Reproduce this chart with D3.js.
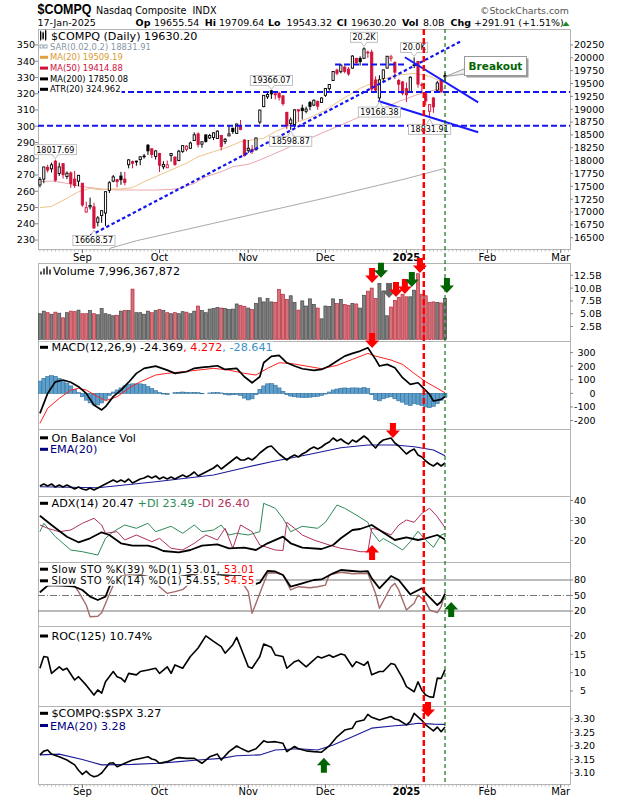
<!DOCTYPE html>
<html><head><meta charset="utf-8">
<script src="https://cdn.jsdelivr.net/npm/d3@7"></script>
<style>
body{margin:0;background:#fff}
svg{display:block}
text{font-family:"DejaVu Sans",Verdana,sans-serif;white-space:pre}
</style></head>
<body><svg id="chart" width="620" height="800"></svg>
<script>
// ---------------- DATA ----------------
const tradingDays = {
  "2024-08": [16,19,20,21,22,23,26,27,28,29,30],
  "2024-09": [3,4,5,6,9,10,11,12,13,16,17,18,19,20,23,24,25,26,27,30],
  "2024-10": [1,2,3,4,7,8,9,10,11,14,15,16,17,18,21,22,23,24,25,28,29,30,31],
  "2024-11": [1,4,5,6,7,8,11,12,13,14,15,18,19,20,21,22,25,26,27,29],
  "2024-12": [2,3,4,5,6,9,10,11,12,13,16,17,18,19,20,23,24,26,27,30,31],
  "2025-01": [2,3,6,7,8,10,13,14,15,16,17]
};
const dates = Object.entries(tradingDays).flatMap(([m,ds]) => ds.map(d => m + "-" + String(d).padStart(2,"0")));
const monthTicks = [["Sep",11,false],["Oct",31,false],["Nov",54,false],["Dec",74,false],["2025",95,true],["Feb",116,false],["Mar",135,false]];
const prevClose0 = 17594.50;

const open = [17525,17640,17870,17840,17990,17750,17940,17690,17760,17640,17600,
 17560,17000,17100,17100,16800,16930,16980,17420,17600,
 17630,17700,17640,17920,17980,17990,18020,18090,18300,18230,18080,
 18140,17880,17860,18100,18070,18000,18180,18220,18240,
 18390,18520,18320,18500,18440,18450,18430,18490,18370,18480,
 18630,18530,18670,18400,
 18200,18220,18210,18750,19050,19240,
 19360,19300,19310,19260,18940,18720,18700,18990,19020,18960,
 19130,19080,19150,19130,
 19270,19400,19560,19760,19730,
 19820,19780,19800,19990,19990,
 19990,20110,20110,19570,19220,
 19600,19800,19990,19910,
 19560,19530,
 19400,19340,19850,19930,19470,19300,
 18960,19220,19370,19560,19655.54];
const high = [17680,17877,17920,17960,18017.69,17960,17950,17790,17790,17800,17720,
 17560,17200,17280,17180,16920,17030,17400,17600,17720,
 17640,17780,17780,18030,18000,18000,18080,18130,18320,18240,18200,
 18150,17990,18000,18140,18080,18210,18300,18300,18370,
 18550,18550,18370,18510,18520,18550,18590,18500,18440,18690,
 18640,18720,18790,18420,
 18400,18300,18450,18990,19270,19330,
 19366.07,19350,19340,19270,18940,18840,19000,18990,19090,19050,
 19160,19190,19170,19230,
 19410,19490,19740,19790,19870,
 19850,19820,20050,20000,20030,
 20204.58,20140,20160,19640,19660,
 19770,20035,20060,19930,
 19590,19550,
 19520,19640,20007.95,19940,19520,19320,
 19100,19230,19550,19580,19709.64];
const low = [17480,17560,17770,17770,17590,17700,17650,17640,17470,17470,17500,
 17100,16990,17050,16668.57,16720,16790,16730,17370,17580,
 17480,17530,17520,17850,17850,17900,17910,18040,18110,18050,18020,
 17780,17830,17860,17980,17900,17990,18150,18180,18230,
 18390,18260,18250,18350,18420,18400,18420,18200,18320,18480,
 18520,18520,18590,18080,
 18150,18130,18200,18710,19040,19200,
 19200,19190,19170,19070,18610,18598.87,18650,18760,18800,18920,
 18980,19060,18990,19120,
 19240,19360,19550,19660,19700,
 19700,19650,19790,19890,19850,
 19980,20000,19350,19340,19168.38,
 19520,19790,19930,19590,
 19340,19270,
 19140,19330,19800,19420,19320,19070,
 18831.91,18930,19340,19320,19543.32];
const close = [17631.72,17876.77,17816.94,17918.99,17619.35,17877.79,17725.77,17754.82,17556.03,17516.43,17713.62,
 17136.30,17084.30,17127.66,16690.83,16884.60,17025.88,17395.53,17569.68,17683.98,
 17592.13,17628.06,17573.30,18013.98,17948.32,17974.27,18074.52,18082.21,18190.29,18119.59,18189.17,
 17910.36,17925.12,17918.48,18137.85,17923.90,18182.92,18291.62,18282.05,18342.94,
 18502.69,18315.59,18367.08,18373.61,18489.55,18540.01,18573.13,18276.65,18415.49,18518.61,
 18567.19,18712.75,18607.93,18095.15,
 18239.92,18179.98,18439.17,18983.47,19269.46,19286.78,
 19298.76,19281.40,19230.74,19107.65,18680.12,18791.81,18987.47,18966.14,18972.42,19003.65,
 19054.84,19174.30,19060.48,19218.17,
 19403.95,19480.91,19735.12,19700.26,19859.77,
 19736.69,19687.24,20034.89,19902.84,19926.72,
 20173.89,20109.06,19392.69,19372.77,19572.60,
 19764.89,20031.13,20020.36,19722.03,
 19486.79,19310.79,
 19280.79,19621.68,19864.98,19489.68,19478.88,19161.63,
 19088.10,19044.39,19511.23,19338.29,19630.20];
const volumeB = [5.0,5.5,5.2,4.9,5.3,5.1,4.2,5.2,5.5,5.4,5.7,
 5.0,5.0,5.6,5.0,4.8,6.0,5.0,4.8,4.6,
 4.7,5.5,5.6,5.6,9.8,5.2,5.2,4.9,5.5,5.2,5.6,
 5.8,5.6,5.2,5.0,5.2,5.0,5.4,5.3,5.0,
 5.5,6.5,5.6,5.2,5.9,6.0,6.2,6.1,6.0,5.8,
 5.9,6.9,6.6,6.4,
 6.1,5.8,7.0,8.1,7.3,8.0,
 7.3,7.2,9.7,8.8,7.8,8.5,7.2,5.7,7.5,6.5,
 7.9,6.8,6.1,4.0,
 6.5,6.4,7.9,7.0,7.8,
 6.8,6.6,7.0,6.9,6.1,
 8.6,9.4,10.0,8.0,10.9,
 9.4,4.6,6.3,7.6,
 8.2,8.8,
 8.3,8.3,9.6,12.8,8.8,8.5,
 7.2,7.3,7.2,7.1,7.996];

// overlays on price: [day index, value]
const ma20 = [[0,17084],[3,17110],[7,17267],[10,17395],[13,17460],[16,17430],[18,17448],[21,17450],[24,17473],[27,17590],[30,17687],[34,17818],[38,17948],[41,18076],[45,18174],[49,18271],[52,18368],[55,18401],[58,18434],[61,18563],[64,18660],[67,18757],[70,18835],[74,18985],[78,19180],[83,19407],[88,19569],[93,19666],[97,19699],[101,19640],[105,19509.19]];
const ma50 = [[0,17590],[3,17603],[7,17558],[11,17493],[16,17448],[20,17428],[25,17428],[30,17428],[34,17440],[37,17470],[40,17558],[43,17687],[47,17784],[50,17882],[54,17928],[57,18012],[60,18109],[64,18240],[67,18368],[70,18434],[73,18532],[78,18693],[83,18855],[88,18985],[93,19150],[98,19290],[102,19370],[105,19414.88]];
const ma200 = [[18,16290],[25,16440],[35,16610],[45,16780],[55,16950],[65,17120],[75,17290],[85,17470],[95,17650],[105,17850.08]];

const macdLine = [[0,-147],[2,0],[4,85],[6,98],[8,82],[10,49],[12,0],[14,-86],[16,-122],[17,-98],[19,-24],[21,24],[23,82],[25,147],[27,184],[30,200],[33,171],[35,147],[38,159],[40,184],[42,191],[44,196],[46,203],[48,176],[51,184],[53,122],[55,78],[57,122],[58,225],[60,272],[62,279],[64,225],[66,201],[68,181],[71,169],[73,176],[75,201],[77,238],[79,274],[81,294],[83,311],[85,335],[87,250],[88,201],[90,213],[92,189],[94,115],[96,66],[98,78],[99,49],[101,-7],[102,-56],[104,-44],[105,-24.369]];
const macdSignal = [[0,-220],[2,-110],[5,-37],[8,24],[10,37],[12,24],[15,-25],[17,-54],[20,-25],[23,37],[26,85],[30,135],[33,147],[37,159],[41,171],[45,184],[49,171],[53,147],[56,135],[59,184],[62,225],[65,220],[69,201],[73,181],[77,206],[81,250],[85,294],[87,274],[91,245],[94,213],[97,147],[100,85],[103,37],[105,4.272]];
const macdHist = [90,110,125,130,125,110,95,75,55,30,5,
 -25,-50,-70,-85,-85,-70,-45,-15,10,
 25,40,55,65,70,70,70,65,50,35,20,
 5,-5,-8,0,5,8,10,8,5,
 8,5,-3,0,3,5,8,3,-8,-12,
 -10,-8,-15,-35,
 -48,-40,-10,30,55,70,
 72,60,40,15,-10,-20,-25,-28,-30,-30,
 -28,-25,-22,-15,
 -5,10,25,32,38,
 40,38,40,40,38,
 42,35,-10,-45,-55,
 -40,-30,-25,-40,
 -55,-65,
 -80,-90,-75,-80,-90,-100,
 -105,-95,-75,-50,-28.641];

// On balance volume (relative, billions)
const obv = [[0,4],[1,6],[2,4],[3,6],[4,3],[5,5],[6,3],[7,5],[8,3],[9,1],[10,3],[11,1],[12,0],[13,2],[14,0],[15,2],[16,4],[17,6],[18,8],[19,10],[20,8],[21,10],[22,8],[23,11],[24,7],[25,9],[26,11],[27,12],[28,14],[29,12],[30,14],[31,11],[32,13],[33,11],[34,13],[35,11],[36,13],[37,15],[38,13],[39,15],[40,18],[41,14],[42,16],[43,18],[44,20],[45,22],[46,25],[47,21],[48,24],[49,27],[50,30],[51,33],[52,30],[53,30],[54,32],[55,30],[56,33],[57,37],[58,40],[59,43],[60,44],[61,40],[62,36],[63,33],[64,30],[65,33],[66,35],[67,33],[68,36],[69,38],[70,41],[71,43],[72,41],[73,43],[74,46],[75,48],[76,52],[77,49],[78,51],[79,48],[80,46],[81,50],[82,48],[83,51],[84,54],[85,51],[86,46],[87,42],[88,47],[89,50],[90,51],[91,52],[92,47],[93,44],[94,40],[95,36],[96,39],[97,41],[98,35],[99,33],[100,29],[101,26],[102,24],[103,27],[104,24],[105,27]];
const obvEma = [[0,3.3],[15,2.3],[30,8.3],[45,15],[53,22.3],[60,28.3],[70,35.7],[78,42.3],[85,45],[92,45],[97,43.3],[102,40],[105,34.3]];

const adx = [[0,32.4],[3,27.75],[7,21.9],[10,19.1],[13,21.1],[16,24.1],[18,22.75],[21,18.6],[24,17.4],[28,17.4],[30,16.4],[32,14.75],[36,14.1],[39,15.25],[42,17.4],[46,18.1],[49,16.1],[53,16.4],[56,15.25],[59,18.6],[63,21.9],[65,18.6],[68,16.4],[73,15.75],[76,17.75],[78,21.1],[81,25.25],[83,25.75],[86,27.75],[88,25.25],[92,20.25],[95,21.6],[98,20.25],[100,21.1],[103,22.75],[105,20.47]];
const plusDI = [[0,24.4],[1,28.6],[4,21.9],[8,15.25],[11,14.4],[15,12.75],[17,21.1],[19,24.4],[22,27.75],[25,26.1],[28,28.6],[30,24.4],[34,27.1],[37,23.6],[40,27.75],[42,24.4],[45,25.25],[47,27.75],[49,22.75],[51,23.6],[54,22.75],[57,24.4],[58,38.6],[61,36.1],[63,31.1],[65,24.4],[68,27.1],[72,26.1],[74,29.1],[77,37.75],[79,36.1],[82,32.75],[85,29.1],[86,24.4],[88,19.4],[89,21],[92,17.75],[94,15.25],[96,19.4],[98,24.6],[100,20.25],[102,16.6],[104,22.75],[105,23.49]];
const minusDI = [[0,27.75],[2,26.1],[5,24.4],[8,25.25],[11,28.6],[14,31.1],[16,27.75],[17,23.6],[20,24.4],[22,20.25],[25,22.75],[29,19.4],[31,21.1],[34,16.1],[37,15.25],[40,18.6],[43,22.75],[46,20.25],[48,26.1],[50,16.1],[52,27.75],[55,24.4],[57,17.75],[61,15.25],[63,15],[64,29.1],[66,26.1],[68,22.75],[71,20.25],[75,17.75],[78,16.1],[81,15.25],[83,14.4],[85,14.4],[86,26.1],[88,25.25],[91,22.75],[93,27.75],[95,30.25],[97,29.1],[99,33.6],[101,36.1],[103,31.9],[105,26.4]];

const sto39 = [[0,56.2],[2,69],[5,70],[9,67],[11,60.7],[13,47.7],[15,41.3],[17,47.7],[18,67],[19,76.7],[22,85],[26,88],[30,84],[33,80],[36,86],[39,90],[42,95],[45,94],[47,89.7],[50,87.7],[52,88],[54,78.7],[55,70.3],[57,74.8],[59,97.4],[61,96.5],[63,89.7],[65,67],[68,73.5],[71,80],[73,81],[76,92.9],[78,99.3],[81,97.4],[83,96],[85,97],[86,83.2],[88,64],[91,87.7],[93,80],[96,52.3],[99,64],[100,54.2],[103,31.6],[104,38],[105,53.01]];
const sto14 = [[0,56],[2,70],[5,69],[9,68],[10,57.4],[12,31.6],[13,9],[15,10],[16,16.8],[18,52.3],[19,70],[21,88],[25,92],[29,85],[31,67],[33,54],[35,57.4],[37,61.3],[39,75],[40,88],[42,96],[45,96],[47,83],[49,70],[52,80],[54,57.4],[55,15.5],[57,54.2],[59,93],[61,94],[63,90],[65,60.7],[67,67],[70,65],[72,67],[74,70],[75,90],[78,95],[81,92],[85,93],[87,54],[88,25.3],[91,67],[92,73.5],[93,60.7],[95,22],[97,35],[98,51],[100,38],[101,22],[103,16.8],[104,28.4],[105,54.55]];

const roc125 = [[0,11.2],[1,14.4],[2,14.2],[3,9.8],[5,11.6],[6,10.7],[7,11.2],[9,8],[10,8.9],[12,6.6],[14,3.9],[15,5.3],[16,4.4],[17,7.5],[19,10.3],[20,8.9],[21,8.5],[22,7.5],[23,9.8],[25,9.4],[26,10.3],[28,10.7],[30,11.2],[31,9.8],[33,11.6],[34,9.8],[35,12.1],[37,11.2],[39,14.4],[41,16.7],[43,20],[45,18.5],[47,17.1],[48,15.3],[50,17.6],[51,19.6],[52,17],[54,11.6],[55,11.2],[57,14.4],[58,17.8],[60,16.9],[61,14.8],[63,14.4],[64,11.2],[66,13],[67,13.4],[69,11.6],[70,12.5],[72,14.4],[73,14],[75,14.8],[76,14.2],[78,15.1],[79,14.8],[81,11.6],[82,13],[84,12],[85,13],[86,9.4],[88,10.3],[89,10.3],[91,12.5],[92,12.2],[94,8.5],[95,6.2],[97,4.8],[98,7.5],[99,5.2],[100,3.9],[101,3.4],[102,3.3],[103,8.5],[104,8.4],[105,10.74]];

const ratio = [[0,3.167],[1,3.181],[2,3.185],[3,3.170],[4,3.165],[5,3.160],[7,3.148],[9,3.130],[10,3.110],[11,3.095],[12,3.107],[13,3.093],[14,3.086],[15,3.090],[16,3.100],[18,3.136],[19,3.138],[20,3.123],[22,3.136],[24,3.148],[26,3.154],[28,3.160],[29,3.152],[30,3.148],[31,3.136],[33,3.142],[35,3.154],[36,3.157],[38,3.154],[40,3.154],[42,3.136],[44,3.160],[46,3.170],[47,3.148],[49,3.179],[51,3.200],[52,3.192],[53,3.185],[54,3.179],[56,3.190],[58,3.219],[59,3.214],[61,3.216],[63,3.210],[64,3.179],[66,3.198],[67,3.190],[69,3.182],[71,3.179],[73,3.177],[75,3.200],[77,3.234],[79,3.259],[81,3.266],[82,3.290],[84,3.296],[85,3.317],[86,3.306],[88,3.296],[91,3.309],[92,3.300],[93,3.296],[95,3.278],[96,3.290],[97,3.321],[99,3.295],[100,3.278],[102,3.256],[103,3.270],[104,3.253],[105,3.27]];
const ratioEma = [[0,3.167],[5,3.170],[11,3.150],[16,3.130],[24,3.132],[31,3.136],[36,3.142],[41,3.148],[47,3.154],[51,3.164],[57,3.167],[61,3.185],[67,3.19],[72,3.185],[76,3.204],[81,3.234],[86,3.266],[92,3.275],[95,3.278],[98,3.284],[102,3.281],[105,3.28]];

// axis tick labels
const priceTicks = [16500,16750,17000,17250,17500,17750,18000,18250,18500,18750,19000,19250,19500,19750,20000,20250];
const leftTicks = [230,240,250,260,270,280,290,300,310,320,330,340,350];
const volTicks = [2.5,5,7.5,10,12.5];
const macdTicks = [-200,-100,0,100,200,300];
const adxTicks = [20,30,40];
const stoTicks = [20,50,80];
const rocTicks = [5,10,15,20];
const ratioTicks = [3.10,3.15,3.20,3.25,3.30];

// annotations (drawn in data coordinates)
const hLevels = [[19333,-0.5,137.4],[18680,-0.5,137.4],[19870,76.5,94.6]];
const risingTrend = [[11.67,16488],[108.9,20314]];
const wedgeUpper = [[94.6,20011],[113.6,19135]];
const wedgeLower = [[87.7,19160],[113.6,18551]];
const valueLabels = [[4,18017.69,"18017.69","up"],[14,16668.57,"16668.57","down"],[60,19366.07,"19366.07","up"],[65,18598.87,"18598.87","down"],[84,20204.58,"20.2K","up"],[88,19168.38,"19168.38","down"],[97,20007.95,"20.0K","up"],[101,18831.91,"18831.91","down"]];
const markerLines = [[99.5,"#ff0000",2.4,"6,3"],[105,"#006600",1.1,"4,3"]];
const arrows = [
 ["vol",86.1,11.0,"down","#ff0000"],["vol",88.4,12.0,"down","#006400"],["vol",90.5,8.07,"down","#666666"],
 ["vol",92.3,8.26,"down","#ff0000"],["vol",94.6,8.85,"down","#ff0000"],["vol",96.4,10.2,"down","#006400"],
 ["vol",98.5,12.95,"down","#ff0000"],["vol",105.5,9.04,"down","#006400"],
 ["macd",86.1,333,"down","#ff0000"],["obv",91.5,52,"down","#ff0000"],["adx",86.1,17.75,"up","#ff0000"],
 ["sto",106.6,37.4,"up","#006400"],["ratio",73.6,3.156,"up","#006400"],["ratio",100.6,3.307,"down","#ff0000"]];

// ---------------- DRAWING ----------------
const svg = d3.select("#chart");
const X0 = 38, X1 = 570;
const x = d3.scaleLinear().domain([-0.5, 137.4]).range([X0, X1]);
const P = {price:{t:29,b:249}, vol:{t:263,b:341}, macd:{t:341,b:429}, obv:{t:429,b:496},
  adx:{t:496,b:562}, sto:{t:562,b:626}, roc:{t:626,b:706}, ratio:{t:706,b:784}};
const yPrice = d3.scaleLinear().domain([16280,20561]).range([P.price.b,P.price.t]);
const yLeft = d3.scaleLinear().domain([224.5,359.8]).range([P.price.b,P.price.t]);
const yVol = d3.scaleLinear().domain([-0.33,14.9]).range([P.vol.b,P.vol.t]);
const yMacd = d3.scaleLinear().domain([-262,385]).range([P.macd.b,P.macd.t]);
const yObv = d3.scaleLinear().domain([-6,61]).range([P.obv.b,P.obv.t]);
const yAdx = d3.scaleLinear().domain([9.25,42.25]).range([P.adx.b,P.adx.t]);
const ySto = d3.scaleLinear().domain([-9,114.8]).range([P.sto.b,P.sto.t]);
const yRoc = d3.scaleLinear().domain([0.92,22.7]).range([P.roc.b,P.roc.t]);
const yRatio = d3.scaleLinear().domain([3.0593,3.348]).range([P.ratio.b,P.ratio.t]);
const Y = {price:yPrice, vol:yVol, macd:yMacd, obv:yObv, adx:yAdx, sto:ySto, roc:yRoc, ratio:yRatio};

const defs = svg.append("defs");
Object.entries(P).forEach(([k,p]) => {
  defs.append("clipPath").attr("id","clip-"+k).append("rect")
    .attr("x",X0).attr("y",p.t).attr("width",X1-X0).attr("height",p.b-p.t);
});
// frames
Object.entries(P).forEach(([k,p]) => {
  svg.append("rect").attr("x",X0+0.5).attr("y",p.t+0.5).attr("width",X1-X0).attr("height",p.b-p.t)
    .attr("fill","#fff").attr("stroke","#b4b4b4").attr("stroke-width",1);
});
const layer = k => svg.append("g").attr("clip-path","url(#clip-"+k+")");
const lineGen = ys => d3.line().x(d => x(d[0])).y(d => ys(d[1]));
function drawLine(g, data, ys, color, w, dash){
  const p = g.append("path").attr("d", lineGen(ys)(data)).attr("fill","none")
    .attr("stroke",color).attr("stroke-width",w).attr("stroke-linejoin","round");
  if (dash) p.attr("stroke-dasharray",dash);
  return p;
}
const isDown = i => close[i] < (i ? close[i-1] : prevClose0);
const RED = "#d2143c";

// ---- price panel
const gp = layer("price");
drawLine(gp, ma200, yPrice, "#a9a9a9", 1);
drawLine(gp, ma50, yPrice, "#eaa7ae", 1);
drawLine(gp, ma20, yPrice, "#efc48a", 1);
const bw = 2.2;
dates.forEach((d,i) => {
  const c = isDown(i) ? RED : "#000";
  const cx = x(i);
  gp.append("line").attr("x1",cx).attr("x2",cx).attr("y1",yPrice(high[i])).attr("y2",yPrice(low[i]))
    .attr("stroke",c).attr("stroke-width",1);
  const top = yPrice(Math.max(open[i],close[i])), bot = yPrice(Math.min(open[i],close[i]));
  gp.append("rect").attr("x",cx-bw/2).attr("y",top).attr("width",bw).attr("height",Math.max(bot-top,0.8))
    .attr("fill", close[i] >= open[i] ? "#fff" : c).attr("stroke",c).attr("stroke-width",0.9);
});
hLevels.forEach(h => {
  gp.append("line").attr("x1",x(h[1])).attr("x2",x(h[2])).attr("y1",yPrice(h[0])).attr("y2",yPrice(h[0]))
    .attr("stroke","#1414f0").attr("stroke-width",2).attr("stroke-dasharray","6,3");
});
drawLine(gp, risingTrend, yPrice, "#1414f0", 2.2, "3.5,2.5");
drawLine(gp, wedgeUpper, yPrice, "#1a1aff", 2);
drawLine(gp, wedgeLower, yPrice, "#1a1aff", 2);

// ---- volume
const gv = layer("vol");
dates.forEach((d,i) => {
  const dn = isDown(i);
  gv.append("rect").attr("x",x(i)-1.5).attr("width",3).attr("y",yVol(volumeB[i])).attr("height",yVol(0)-yVol(volumeB[i]))
    .attr("fill", dn ? "#d6727a" : "#808080").attr("stroke", dn ? "#b8283c" : "#444").attr("stroke-width",0.7);
});

// ---- MACD
const gm = layer("macd");
const step = x(1)-x(0);
macdHist.forEach((v,i) => {
  const y0 = yMacd(0), y1 = yMacd(v);
  gm.append("rect").attr("x",x(i)-step/2).attr("width",step).attr("y",Math.min(y0,y1)).attr("height",Math.abs(y1-y0))
    .attr("fill","#5f9fcc").attr("stroke","#2f6f9c").attr("stroke-width",0.6);
});
drawLine(gm, macdSignal, yMacd, "#ff2020", 1);
drawLine(gm, macdLine, yMacd, "#000", 1.7);

// ---- OBV
const go = layer("obv");
drawLine(go, obvEma, yObv, "#1a1a9a", 1.1);
drawLine(go, obv, yObv, "#000", 1.6);

// ---- ADX
const ga = layer("adx");
drawLine(ga, plusDI, yAdx, "#2e8b57", 1);
drawLine(ga, minusDI, yAdx, "#b03060", 1);
drawLine(ga, adx, yAdx, "#000", 1.8);

// ---- STO
const gs = layer("sto");
[80,20].forEach(v => gs.append("line").attr("x1",X0).attr("x2",X1).attr("y1",ySto(v)).attr("y2",ySto(v)).attr("stroke","#777").attr("stroke-width",1));
gs.append("line").attr("x1",X0).attr("x2",X1).attr("y1",ySto(50)).attr("y2",ySto(50)).attr("stroke","#777").attr("stroke-width",1).attr("stroke-dasharray","7,2,1,2");
drawLine(gs, sto14, ySto, "#a36b6b", 1.4);
drawLine(gs, sto39, ySto, "#000", 1.8);

// ---- ROC
const gr = layer("roc");
drawLine(gr, roc125, yRoc, "#000", 1.6);

// ---- ratio
const gq = layer("ratio");
drawLine(gq, ratioEma, yRatio, "#1a1a9a", 1.1);
drawLine(gq, ratio, yRatio, "#000", 1.6);

// ---------------- legends ----------------
function legend(L){
  const g = svg.append("g");
  const bg = g.append("rect").attr("fill","#fff");
  const t = g.append("text").attr("x",L.x).attr("y",L.y).attr("dy","0.36em").style("font-size",L.size+"px");
  if (L.ls) t.style("letter-spacing", L.ls + "px");
  L.parts.forEach(p => t.append("tspan").attr("fill",p[1]).text(p[0]));
  const bb = t.node().getBBox();
  bg.attr("x",39).attr("y",L.y-L.size*0.5).attr("width",bb.x+bb.width-39+1).attr("height",L.size);
  if (L.icon === "dash") g.append("rect").attr("x",40).attr("y",L.y-1.5).attr("width",8).attr("height",3).attr("fill",L.ic);
  if (L.icon === "sar") { [40,44].forEach(px => g.append("rect").attr("x",px).attr("y",L.y-1.5).attr("width",3).attr("height",3).attr("fill","none").attr("stroke","#8595a5").attr("stroke-width",0.8)); }
  if (L.icon === "candle") {
    [[40,-4,4],[42.5,-3,3],[45,-5,4]].forEach(c => {
      g.append("line").attr("x1",c[0]+0.6).attr("x2",c[0]+0.6).attr("y1",L.y+c[1]-1).attr("y2",L.y+c[2]+1).attr("stroke","#000").attr("stroke-width",0.8);
      g.append("rect").attr("x",c[0]).attr("y",L.y+c[1]).attr("width",1.3).attr("height",c[2]-c[1]).attr("fill","#000");
    });
  }
  if (L.icon === "bars") {
    [[40,3],[43,6],[46,8],[49,5]].forEach(b => g.append("rect").attr("x",b[0]).attr("y",L.y+4-b[1]).attr("width",2).attr("height",b[1]).attr("fill","#555"));
  }
}
const legends = [
 {x:51, y:35.7, size:11.2, icon:"candle", parts:[["$COMPQ (Daily) 19630.20","#000"]]},
 {x:50, y:46.5, size:8.4, icon:"sar", parts:[["SAR(0.02,0.2) 18831.91","#8595a5"]]},
 {x:50, y:57.3, size:8.4, icon:"dash", ic:"#e0a040", parts:[["MA(20) 19509.19","#d99a30"]]},
 {x:50, y:68.1, size:8.4, icon:"dash", ic:"#d0103a", parts:[["MA(50) 19414.88","#d0103a"]]},
 {x:50, y:78.9, size:8.4, icon:"dash", ic:"#000", parts:[["MA(200) 17850.08","#000"]]},
 {x:50, y:89.3, size:8.4, icon:"dash", ic:"#000", parts:[["ATR(20) 324.962","#000"]]},
 {x:53, y:270.5, size:11.2, icon:"bars", parts:[["Volume 7,996,367,872","#000"]]},
 {x:51.5, y:347.3, size:11.2, icon:"dash", ic:"#000", parts:[["MACD(12,26,9) -24.369","#000"],[", 4.272","#ff0000"],[", -28.641","#3a8fc8"]]},
 {x:51.5, y:437.8, size:11.2, icon:"dash", ic:"#000", parts:[["On Balance Vol","#000"]]},
 {x:50, y:449.3, size:11.2, icon:"dash", ic:"#000080", parts:[["EMA(20)","#000080"]]},
 {x:51.5, y:503.3, size:11.2, icon:"dash", ic:"#000", parts:[["ADX(14) 20.47 ","#000"],["+DI 23.49 ","#2e8b57"],["-DI 26.40","#b03060"]]},
 {x:51.5, y:569.2, size:10, ls:0.45, icon:"dash", ic:"#000", parts:[["Slow STO %K(39) %D(1) 53.01, ","#000"],["53.01","#ff0000"]]},
 {x:51.5, y:580.8, size:10, ls:0.45, icon:"dash", ic:"#000", parts:[["Slow STO %K(14) %D(1) 54.55, ","#000"],["54.55","#ff0000"]]},
 {x:51.5, y:636, size:11.2, icon:"dash", ic:"#000", parts:[["ROC(125) 10.74%","#000"]]},
 {x:51.5, y:713.3, size:11.2, icon:"dash", ic:"#000", parts:[["$COMPQ:$SPX 3.27","#000"]]},
 {x:50, y:725.5, size:11.2, icon:"dash", ic:"#000080", parts:[["EMA(20) 3.28","#000080"]]}
];
legends.forEach(legend);

// ---------------- axes ----------------
function rightAxis(ys, ticks, fmt){
  const g = svg.append("g");
  const texts = ticks.map(v => {
    g.append("line").attr("x1",X1).attr("x2",X1+3).attr("y1",ys(v)).attr("y2",ys(v)).attr("stroke","#888");
    return g.append("text").attr("y",ys(v)).attr("dy","0.36em").style("font-size","9.5px").attr("text-anchor","end").text(fmt(v));
  });
  const maxW = d3.max(texts, t => t.node().getComputedTextLength());
  texts.forEach(t => t.attr("x", X1 + 4 + maxW));
}
rightAxis(yPrice, priceTicks, v => String(v));
rightAxis(yVol, volTicks, v => v.toFixed(1) + "B");
rightAxis(yMacd, macdTicks, v => String(v));
rightAxis(yAdx, adxTicks, v => String(v));
rightAxis(ySto, stoTicks, v => String(v));
rightAxis(yRoc, rocTicks, v => String(v));
rightAxis(yRatio, ratioTicks, v => v.toFixed(2));
const gl = svg.append("g");
leftTicks.forEach(v => {
  gl.append("line").attr("x1",X0-3).attr("x2",X0).attr("y1",yLeft(v)).attr("y2",yLeft(v)).attr("stroke","#888");
  gl.append("text").attr("x",35).attr("y",yLeft(v)).attr("dy","0.36em").attr("text-anchor","end").style("font-size","9.5px").text(v);
});
// day ticks and month labels
[P.price.b, P.ratio.b].forEach((yb,k) => {
  d3.range(0,138).forEach(i => svg.append("line").attr("x1",x(i)).attr("x2",x(i)).attr("y1",yb+0.5).attr("y2",yb+2.5).attr("stroke","#aaa").attr("stroke-width",0.8));
  monthTicks.forEach(m => {
    svg.append("line").attr("x1",x(m[1])).attr("x2",x(m[1])).attr("y1",yb+0.5).attr("y2",yb+4).attr("stroke","#666");
    svg.append("text").attr("x",x(m[1])).attr("y", k ? 794.5 : 260.5).attr("text-anchor","middle")
      .style("font-size","10px").style("font-weight", m[2] ? "bold" : "normal").text(m[0]);
  });
});

// ---------------- header ----------------
svg.append("text").attr("x",37.5).attr("y",13.8).style("font-family","'Liberation Sans',Arial,sans-serif").style("font-weight","bold").style("font-size","14px")
  .attr("textLength",54).attr("lengthAdjust","spacingAndGlyphs").text("$COMPQ");
svg.append("text").attr("x",96).attr("y",13.8).style("font-size","9.6px").text("Nasdaq Composite");
svg.append("text").attr("x",192.5).attr("y",13.8).style("font-size","9.6px").text("INDX");
svg.append("text").attr("x",569).attr("y",13.8).attr("text-anchor","end").style("font-size","9.4px").attr("fill","#555").text("\u00A9StockCharts.com");
const hdr = [[37.5,"17-Jan-2025",false],[135.6,"Op",true],[154,"19655.54",false],[204.7,"Hi",true],[219,"19709.64",false],
  [268,"Lo",true],[286.6,"19543.32",false],[336.8,"Cl",true],[351,"19630.20",false],[402,"Vol",true],[423,"8.0B",false],
  [450.6,"Chg",true],[474,"+291.91 (+1.51%)",false]];
hdr.forEach(h => svg.append("text").attr("x",h[0]).attr("y",26.3).style("font-size","9.5px").style("font-weight",h[2]?"bold":"normal").text(h[1]));
svg.append("polygon").attr("points","562.5,26 569.5,26 566,21.5").attr("fill","#1a8a1a");

// ---------------- value labels ----------------
valueLabels.forEach(l => {
  const px = x(l[0]), py = yPrice(l[1]);
  const g = svg.append("g");
  const t = g.append("text").attr("x",px).attr("text-anchor","middle").style("font-size","8px").text(l[2]);
  const w = t.node().getComputedTextLength() + 4, h = 10;
  const by = l[3] === "up" ? py - 5 - h : py + 6.5;
  const tailY = l[3] === "up" ? by + h : by;
  g.insert("polygon","text").attr("points", `${px-3},${tailY} ${px+3},${tailY} ${px},${l[3]==="up"? py-1 : py+1}`)
    .attr("fill","#fff").attr("stroke","#b0b0b0").attr("stroke-width",0.8);
  g.insert("rect","text").attr("x",px-w/2).attr("y",by).attr("width",w).attr("height",h)
    .attr("fill","#fff").attr("stroke","#b8b8b8").attr("stroke-width",0.9);
  g.insert("line","text").attr("x1",px-2.4).attr("x2",px+2.4).attr("y1",tailY).attr("y2",tailY).attr("stroke","#fff").attr("stroke-width",1.2);
  t.attr("y", by + 7.8);
});

// ---------------- breakout callout ----------------
const bo = svg.append("g");
bo.append("polygon").attr("points", `${x(105)+0.5},76.5 465,68.5 465,74`).attr("fill","#eee").attr("stroke","#888").attr("stroke-width",0.8);
bo.append("rect").attr("x",466.5).attr("y",58.5).attr("width",62).attr("height",19).attr("fill","#9a9a9a");
bo.append("rect").attr("x",464.5).attr("y",56.5).attr("width",62).attr("height",19).attr("fill","#fff").attr("stroke","#999");
bo.append("text").attr("x",495.5).attr("y",69.8).attr("text-anchor","middle").style("font-size","10.5px").style("font-weight","bold").attr("fill","#006400").text("Breakout");

// ---------------- vertical marker lines ----------------
markerLines.forEach(m => {
  svg.append("line").attr("x1",x(m[0])).attr("x2",x(m[0])).attr("y1",P.price.t).attr("y2",P.ratio.b)
    .attr("stroke",m[1]).attr("stroke-width",m[2]).attr("stroke-dasharray",m[3]);
});

// ---------------- arrows ----------------
arrows.forEach(a => {
  const cx = x(a[1]), ty = Y[a[0]](a[2]);
  const s = a[3] === "down" ? 1 : -1;
  const L = 15, hh = 7.5, hw = 7, sw = 3;
  const pts = [[cx-sw,ty-s*L],[cx+sw,ty-s*L],[cx+sw,ty-s*hh],[cx+hw,ty-s*hh],[cx,ty],[cx-hw,ty-s*hh],[cx-sw,ty-s*hh]];
  svg.append("polygon").attr("points", pts.map(p => p.join(",")).join(" ")).attr("fill",a[4]);
});
</script>
</body></html>
